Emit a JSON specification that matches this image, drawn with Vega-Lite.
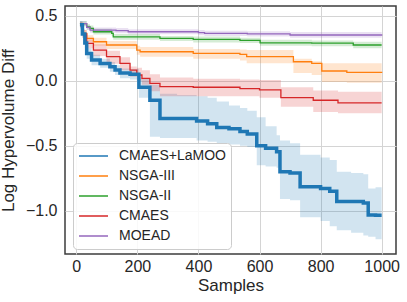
{
  "$schema": "https://vega.github.io/schema/vega-lite/v6.json",
  "width": 331,
  "height": 248,
  "autosize": {"type": "none"},
  "padding": {"left": 65, "top": 6, "right": 11, "bottom": 48},
  "background": "white",
  "config": {
    "font": "Liberation Sans",
    "view": {"stroke": "#3c3c3c", "strokeWidth": 1.5},
    "axis": {
      "grid": true, "gridColor": "#d4d4d4", "gridWidth": 1,
      "domain": false, "ticks": false,
      "labelFontSize": 16, "labelColor": "#262626",
      "titleFontSize": 17, "titleFontWeight": "normal", "titleColor": "#262626"
    },
    "legend": {
      "orient": "none", "legendX": 8, "legendY": 137,
      "fillColor": "rgba(255,255,255,0.85)", "strokeColor": "#cccccc", "cornerRadius": 4,
      "padding": 5, "symbolType": "stroke", "symbolSize": 841, "symbolStrokeWidth": 1.5,
      "symbolOpacity": 1, "labelFontSize": 14, "labelColor": "#262626", "labelOffset": 10,
      "rowPadding": 4, "clipHeight": 16
    }
  },
  "data": {"values": [
    {"m":"CMAES+LaMOO","x":12,"y":0.43,"lo":0.40,"hi":0.46},
    {"m":"CMAES+LaMOO","x":20,"y":0.36,"lo":0.33,"hi":0.40},
    {"m":"CMAES+LaMOO","x":28,"y":0.29,"lo":0.25,"hi":0.32},
    {"m":"CMAES+LaMOO","x":34,"y":0.21,"lo":0.17,"hi":0.25},
    {"m":"CMAES+LaMOO","x":50,"y":0.16,"lo":0.12,"hi":0.20},
    {"m":"CMAES+LaMOO","x":78,"y":0.133,"lo":0.10,"hi":0.17},
    {"m":"CMAES+LaMOO","x":110,"y":0.108,"lo":0.07,"hi":0.145},
    {"m":"CMAES+LaMOO","x":127,"y":0.082,"lo":0.045,"hi":0.12},
    {"m":"CMAES+LaMOO","x":143,"y":0.06,"lo":0.02,"hi":0.095},
    {"m":"CMAES+LaMOO","x":176,"y":0.05,"lo":0.01,"hi":0.09},
    {"m":"CMAES+LaMOO","x":205,"y":-0.05,"lo":-0.13,"hi":0.02},
    {"m":"CMAES+LaMOO","x":241,"y":-0.15,"lo":-0.43,"hi":-0.03},
    {"m":"CMAES+LaMOO","x":274,"y":-0.29,"lo":-0.44,"hi":-0.10},
    {"m":"CMAES+LaMOO","x":330,"y":-0.29,"lo":-0.44,"hi":-0.11},
    {"m":"CMAES+LaMOO","x":394,"y":-0.31,"lo":-0.46,"hi":-0.12},
    {"m":"CMAES+LaMOO","x":430,"y":-0.33,"lo":-0.47,"hi":-0.13},
    {"m":"CMAES+LaMOO","x":460,"y":-0.36,"lo":-0.48,"hi":-0.16},
    {"m":"CMAES+LaMOO","x":500,"y":-0.37,"lo":-0.49,"hi":-0.19},
    {"m":"CMAES+LaMOO","x":536,"y":-0.39,"lo":-0.50,"hi":-0.21},
    {"m":"CMAES+LaMOO","x":560,"y":-0.41,"lo":-0.51,"hi":-0.23},
    {"m":"CMAES+LaMOO","x":591,"y":-0.50,"lo":-0.65,"hi":-0.28},
    {"m":"CMAES+LaMOO","x":620,"y":-0.52,"lo":-0.66,"hi":-0.35},
    {"m":"CMAES+LaMOO","x":656,"y":-0.546,"lo":-0.67,"hi":-0.42},
    {"m":"CMAES+LaMOO","x":667,"y":-0.70,"lo":-0.91,"hi":-0.46},
    {"m":"CMAES+LaMOO","x":700,"y":-0.71,"lo":-0.92,"hi":-0.48},
    {"m":"CMAES+LaMOO","x":733,"y":-0.815,"lo":-1.05,"hi":-0.57},
    {"m":"CMAES+LaMOO","x":800,"y":-0.83,"lo":-1.08,"hi":-0.59},
    {"m":"CMAES+LaMOO","x":830,"y":-0.85,"lo":-1.12,"hi":-0.61},
    {"m":"CMAES+LaMOO","x":853,"y":-0.93,"lo":-1.15,"hi":-0.70},
    {"m":"CMAES+LaMOO","x":900,"y":-0.93,"lo":-1.17,"hi":-0.71},
    {"m":"CMAES+LaMOO","x":940,"y":-0.94,"lo":-1.19,"hi":-0.72},
    {"m":"CMAES+LaMOO","x":956,"y":-1.033,"lo":-1.20,"hi":-0.83},
    {"m":"CMAES+LaMOO","x":980,"y":-1.035,"lo":-1.22,"hi":-0.82},
    {"m":"CMAES+LaMOO","x":1000,"y":-1.035,"lo":-1.24,"hi":-0.83},

    {"m":"NSGA-III","x":12,"y":0.43,"lo":0.41,"hi":0.45},
    {"m":"NSGA-III","x":23,"y":0.365,"lo":0.34,"hi":0.39},
    {"m":"NSGA-III","x":34,"y":0.326,"lo":0.30,"hi":0.35},
    {"m":"NSGA-III","x":56,"y":0.30,"lo":0.27,"hi":0.33},
    {"m":"NSGA-III","x":99,"y":0.275,"lo":0.245,"hi":0.305},
    {"m":"NSGA-III","x":198,"y":0.236,"lo":0.20,"hi":0.27},
    {"m":"NSGA-III","x":209,"y":0.223,"lo":0.185,"hi":0.26},
    {"m":"NSGA-III","x":383,"y":0.21,"lo":0.17,"hi":0.245},
    {"m":"NSGA-III","x":536,"y":0.203,"lo":0.155,"hi":0.24},
    {"m":"NSGA-III","x":558,"y":0.185,"lo":0.134,"hi":0.236},
    {"m":"NSGA-III","x":700,"y":0.185,"lo":0.134,"hi":0.236},
    {"m":"NSGA-III","x":711,"y":0.146,"lo":0.06,"hi":0.17},
    {"m":"NSGA-III","x":771,"y":0.134,"lo":0.045,"hi":0.15},
    {"m":"NSGA-III","x":804,"y":0.075,"lo":-0.01,"hi":0.134},
    {"m":"NSGA-III","x":886,"y":0.065,"lo":-0.015,"hi":0.134},
    {"m":"NSGA-III","x":1000,"y":0.06,"lo":-0.02,"hi":0.13},

    {"m":"NSGA-II","x":12,"y":0.44,"lo":0.42,"hi":0.46},
    {"m":"NSGA-II","x":34,"y":0.415,"lo":0.395,"hi":0.435},
    {"m":"NSGA-II","x":45,"y":0.403,"lo":0.38,"hi":0.425},
    {"m":"NSGA-II","x":56,"y":0.377,"lo":0.355,"hi":0.40},
    {"m":"NSGA-II","x":116,"y":0.365,"lo":0.345,"hi":0.385},
    {"m":"NSGA-II","x":121,"y":0.338,"lo":0.315,"hi":0.36},
    {"m":"NSGA-II","x":274,"y":0.326,"lo":0.305,"hi":0.345},
    {"m":"NSGA-II","x":383,"y":0.318,"lo":0.295,"hi":0.34},
    {"m":"NSGA-II","x":536,"y":0.31,"lo":0.29,"hi":0.33},
    {"m":"NSGA-II","x":602,"y":0.292,"lo":0.27,"hi":0.315},
    {"m":"NSGA-II","x":771,"y":0.29,"lo":0.265,"hi":0.31},
    {"m":"NSGA-II","x":907,"y":0.275,"lo":0.25,"hi":0.30},
    {"m":"NSGA-II","x":1000,"y":0.275,"lo":0.25,"hi":0.30},

    {"m":"CMAES","x":12,"y":0.43,"lo":0.41,"hi":0.45},
    {"m":"CMAES","x":20,"y":0.36,"lo":0.33,"hi":0.39},
    {"m":"CMAES","x":34,"y":0.288,"lo":0.25,"hi":0.32},
    {"m":"CMAES","x":56,"y":0.236,"lo":0.19,"hi":0.28},
    {"m":"CMAES","x":99,"y":0.185,"lo":0.13,"hi":0.23},
    {"m":"CMAES","x":143,"y":0.134,"lo":0.08,"hi":0.18},
    {"m":"CMAES","x":176,"y":0.082,"lo":0.03,"hi":0.11},
    {"m":"CMAES","x":198,"y":0.044,"lo":0.0,"hi":0.10},
    {"m":"CMAES","x":215,"y":0.018,"lo":-0.03,"hi":0.08},
    {"m":"CMAES","x":241,"y":-0.02,"lo":-0.08,"hi":0.05},
    {"m":"CMAES","x":274,"y":-0.046,"lo":-0.12,"hi":0.025},
    {"m":"CMAES","x":383,"y":-0.05,"lo":-0.12,"hi":0.015},
    {"m":"CMAES","x":536,"y":-0.06,"lo":-0.12,"hi":0.01},
    {"m":"CMAES","x":600,"y":-0.07,"lo":-0.13,"hi":0.005},
    {"m":"CMAES","x":670,"y":-0.13,"lo":-0.20,"hi":-0.05},
    {"m":"CMAES","x":776,"y":-0.15,"lo":-0.24,"hi":-0.075},
    {"m":"CMAES","x":857,"y":-0.17,"lo":-0.25,"hi":-0.085},
    {"m":"CMAES","x":1000,"y":-0.17,"lo":-0.26,"hi":-0.085},

    {"m":"MOEAD","x":12,"y":0.44,"lo":0.42,"hi":0.46},
    {"m":"MOEAD","x":34,"y":0.41,"lo":0.39,"hi":0.43},
    {"m":"MOEAD","x":45,"y":0.39,"lo":0.37,"hi":0.41},
    {"m":"MOEAD","x":130,"y":0.385,"lo":0.365,"hi":0.405},
    {"m":"MOEAD","x":170,"y":0.377,"lo":0.357,"hi":0.397},
    {"m":"MOEAD","x":400,"y":0.37,"lo":0.35,"hi":0.39},
    {"m":"MOEAD","x":420,"y":0.365,"lo":0.345,"hi":0.385},
    {"m":"MOEAD","x":560,"y":0.36,"lo":0.34,"hi":0.38},
    {"m":"MOEAD","x":700,"y":0.352,"lo":0.33,"hi":0.375},
    {"m":"MOEAD","x":1000,"y":0.346,"lo":0.325,"hi":0.37}
  ]},
  "encoding": {
    "x": {"field": "x", "type": "quantitative",
      "scale": {"domain": [-37, 1047], "nice": false, "zero": false},
      "axis": {"values": [0, 200, 400, 600, 800, 1000], "format": "d", "title": "Samples", "labelPadding": 4, "titlePadding": 3}},
    "color": {"field": "m", "type": "nominal",
      "scale": {"domain": ["CMAES+LaMOO", "NSGA-III", "NSGA-II", "CMAES", "MOEAD"],
                "range": ["#1f77b4", "#ff7f0e", "#2ca02c", "#d62728", "#9467bd"]},
      "legend": {"title": null}}
  },
  "layer": [
    {
      "mark": {"type": "area", "interpolate": "step-after", "opacity": 0.2},
      "encoding": {
        "y": {"field": "lo", "type": "quantitative", "stack": null,
          "scale": {"domain": [-1.333, 0.575], "nice": false, "zero": false},
          "axis": {"values": [-1, -0.5, 0, 0.5], "format": ".1f", "title": "Log Hypervolume Diff", "labelPadding": 8, "titlePadding": 8}},
        "y2": {"field": "hi"}
      }
    },
    {
      "transform": [{"filter": "datum.m !== 'CMAES+LaMOO'"}],
      "mark": {"type": "line", "interpolate": "step-after", "strokeWidth": 1.3},
      "encoding": {"y": {"field": "y", "type": "quantitative"}}
    },
    {
      "transform": [{"filter": "datum.m === 'CMAES+LaMOO'"}],
      "mark": {"type": "line", "interpolate": "step-after", "strokeWidth": 3.5},
      "encoding": {"y": {"field": "y", "type": "quantitative"}}
    }
  ]
}
